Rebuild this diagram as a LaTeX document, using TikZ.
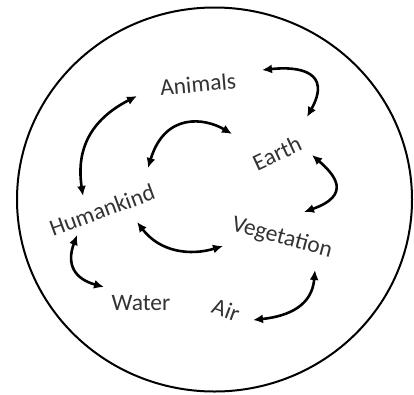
\documentclass[tikz,border=0pt]{standalone}
\usepackage{fontspec}
\setmainfont{Carlito}
\usetikzlibrary{arrows.meta}
\definecolor{txt}{HTML}{333333}
\begin{document}
\begin{tikzpicture}[x=1pt,y=-1pt,
  lbl/.style={text=txt,font=\fontsize{23.5}{26}\selectfont,inner sep=0pt},
  link/.style={line width=2.6pt,{Latex[length=10pt,width=9pt]}-{Latex[length=10pt,width=9pt]}}]
\useasboundingbox (0,0) rectangle (414,394);
\draw[line width=2pt] (214.5,199.5) ellipse [x radius=197.5, y radius=192];
\node[lbl,rotate=5] (animals) at (198,84) {Animals};
\node[lbl,rotate=25] (earth) at (277,153) {Earth};
\node[lbl,rotate=20] (human) at (102,210) {Humankind};
\node[lbl,rotate=-15] (veg) at (282,238) {Vegetation};
\node[lbl] (water) at (141,303) {Water};
\node[lbl,rotate=-20] (air) at (226,310) {Air};
\coordinate (a1) at (137,96);   \coordinate (h1) at (83,196);
\coordinate (e1) at (232,134);  \coordinate (h2) at (148,168);
\coordinate (a2) at (262,70);   \coordinate (e2) at (307,117);
\coordinate (e3) at (312,155);  \coordinate (v1) at (304,212);
\coordinate (h3) at (137,222);  \coordinate (v2) at (223,246);
\coordinate (h4) at (77,235);   \coordinate (w1) at (104,287);
\coordinate (v3) at (315,270);  \coordinate (r1) at (253,320);
\draw[link] (a1) .. controls (90,120) and (76,150) .. (h1);
\draw[link] (e1) .. controls (205,118) and (165,112) .. (h2);
\draw[link] (a2) .. controls (300,66) and (332,72) .. (e2);
\draw[link] (e3) .. controls (335,175) and (352,195) .. (v1);
\draw[link] (h3) .. controls (160,252) and (190,256) .. (v2);
\draw[link] (h4) .. controls (66,265) and (75,279) .. (w1);
\draw[link] (v3) .. controls (312,305) and (290,316) .. (r1);
\end{tikzpicture}
\end{document}
